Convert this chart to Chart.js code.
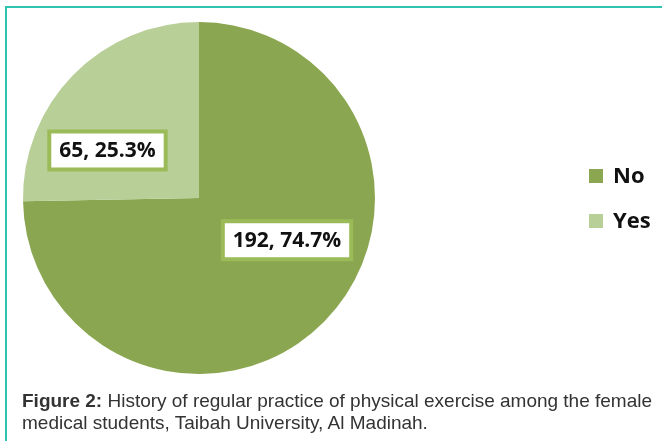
<!DOCTYPE html>
<html><head><meta charset="utf-8">
<script src="https://cdn.jsdelivr.net/npm/chart.js@4/dist/chart.umd.min.js"></script>
<style>
html,body{margin:0;padding:0;background:#fff;width:662px;height:441px;overflow:hidden;}
#frame{position:absolute;left:5px;top:6px;width:662px;height:440px;border-top:2px solid #2fc4b0;border-left:2px solid #2fc4b0;}
#c{position:absolute;left:0;top:0;}
.leg{position:absolute;left:589px;font:bold 22px "Open Sans", Lato, sans-serif;color:#111;line-height:24px;}
.leg span{display:inline-block;width:14px;height:14px;margin-right:10px;vertical-align:0px;}
#cap{position:absolute;left:22px;top:390px;width:630px;font:19px "Liberation Sans", Arial, sans-serif;color:#333;line-height:22px;}
#cap .l1{display:inline-block;white-space:nowrap;}
</style></head>
<body>
<div id="frame"></div>
<canvas id="c" width="662" height="441"></canvas>
<div id="legend"></div>
<div id="cap"><div class="l1" id="l1"><b>Figure 2:</b> History of regular practice of physical exercise among the female</div><div>medical students, Taibah University, Al Madinah.</div></div>
<script>
const categories = ["No", "Yes"];
const counts = [192, 65];
const percents = ["74.7%", "25.3%"];
const colors = ["#8ba650", "#b9cf98"];
const labelPos = [[0.50, 0.24], [-0.52, -0.27]]; // relative to radius

const labelPlugin = {
  id: 'boxLabels',
  afterDatasetsDraw(chart) {
    const ctx = chart.ctx;
    const meta = chart.getDatasetMeta(0);
    meta.data.forEach((arc, i) => {
      const r = arc.outerRadius;
      const x = arc.x + labelPos[i][0] * r;
      const y = arc.y + labelPos[i][1] * r;
      const text = counts[i] + ", " + percents[i];
      ctx.save();
      ctx.font = "bold 21px 'Open Sans', Lato, sans-serif";
      const w = ctx.measureText(text).width + 16;
      const h = 34;
      ctx.fillStyle = "#9bbb59";
      ctx.fillRect(x - w/2 - 4, y - h/2 - 4, w + 8, h + 8);
      ctx.fillStyle = "#ffffff";
      ctx.fillRect(x - w/2, y - h/2, w, h);
      ctx.fillStyle = "#111";
      ctx.textAlign = "center";
      ctx.textBaseline = "middle";
      ctx.fillText(text, x, y + 1);
      ctx.restore();
    });
  }
};

new Chart(document.getElementById('c'), {
  type: 'pie',
  data: {
    labels: categories,
    datasets: [{ data: counts, backgroundColor: colors, borderWidth: 0 }]
  },
  options: {
    responsive: false,
    animation: false,
    layout: { padding: { left: 22, top: 22, right: 286, bottom: 67 } },
    plugins: { legend: { display: false }, tooltip: { enabled: false } }
  },
  plugins: [labelPlugin]
});

const leg = document.getElementById('legend');
const legTops = [162, 207];
categories.forEach((c, i) => {
  const d = document.createElement('div');
  d.className = 'leg';
  d.style.top = legTops[i] + 'px';
  d.innerHTML = '<span style="background:' + colors[i] + '"></span>' + c;
  leg.appendChild(d);
});

// justify first caption line exactly to the caption width
const l1 = document.getElementById('l1');
const gaps = (l1.textContent.match(/ /g) || []).length;
const extra = (630 - l1.getBoundingClientRect().width) / gaps;
l1.style.wordSpacing = extra + 'px';
</script>
</body></html>
